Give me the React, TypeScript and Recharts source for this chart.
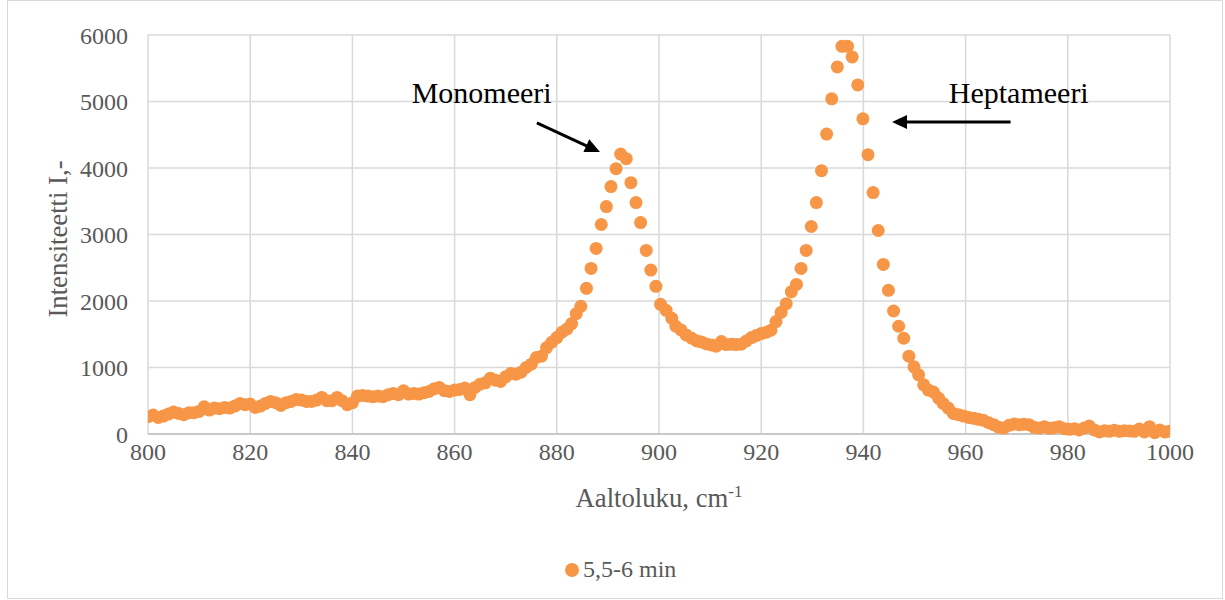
import React from 'react';
import {
  ScatterChart,
  Scatter,
  XAxis,
  YAxis,
  CartesianGrid,
  Legend,
  Label,
  ReferenceLine,
  ReferenceDot,
} from 'recharts';

// Raman spectrum, 800–1000 cm-1
const wavenumbers = [
  800, 801, 802, 803, 804, 805, 806, 807, 808, 809,
  810, 811, 812, 813, 814, 815, 816, 817, 818, 819,
  820, 821, 822, 823, 824, 825, 826, 827, 828, 829,
  830, 831, 832, 833, 834, 835, 836, 837, 838, 839,
  840, 841, 842, 843, 844, 845, 846, 847, 848, 849,
  850, 851, 852, 853, 854, 855, 856, 857, 858, 859,
  860, 861, 862, 863, 864, 865, 866, 867, 868, 869,
  870, 871, 872, 873, 874, 875, 876, 877, 878, 879,
  880, 881, 882, 882.9, 883.8, 884.7, 885.8, 886.7, 887.7, 888.7,
  889.7, 890.6, 891.6, 892.5, 893.6, 894.5, 895.5, 896.4, 897.5, 898.4,
  899.4, 900.3, 901.4, 902.5, 903.3, 904.3, 905.3, 906.4, 907.4, 908.3,
  909.3, 910.3, 911.2, 912.2, 913.2, 914.2, 915.1, 916.1, 917.1, 918.1,
  919.0, 920.0, 921.0, 921.9, 922.9, 923.9, 924.9, 925.9, 926.9, 927.8,
  928.8, 929.8, 930.8, 931.8, 932.8, 933.8, 934.9, 935.8, 936.9, 937.8,
  938.9, 939.9, 940.9, 941.9, 942.9, 943.9, 944.9, 945.9, 946.9, 947.9,
  948.9, 949.9, 950.8, 951.8, 952.7, 953.7, 954.7, 955.6, 956.6, 957.6,
  958.6, 959.6, 960.6, 961.6, 962.5, 963.5, 964.5, 965.5, 966.5, 967.5,
  968.5, 969.5, 970.5, 971.4, 972.4, 973.4, 974.4, 975.4, 976.4, 977.3,
  978.3, 979.3, 980.3, 981.3, 982.2, 983.2, 984.2, 985.2, 986.2, 987.2,
  988.1, 989.1, 990.1, 991.1, 992.1, 993.0, 994.0, 995.0, 996.0, 997.0,
  998.0, 999.0, 999.9,
];

const intensities = [
  260, 285, 250, 270, 300, 330, 310, 290, 320, 320,
  340, 410, 360, 390, 380, 400, 390, 420, 460, 440,
  450, 400, 420, 460, 490, 470, 430, 470, 490, 520,
  510, 490, 490, 510, 550, 500, 500, 550, 500, 440,
  470, 570, 580, 570, 560, 570, 560, 590, 610, 590,
  650, 600, 610, 600, 620, 640, 680, 700, 650, 640,
  660, 670, 690, 590, 700, 750, 770, 840, 810, 790,
  860, 910, 900, 930, 1000, 1050, 1150, 1170, 1300, 1380,
  1450, 1530, 1580, 1660, 1810, 1920, 2190, 2490, 2790, 3150,
  3420, 3720, 3990, 4210, 4140, 3780, 3480, 3180, 2760, 2465,
  2220, 1950, 1860, 1740, 1620, 1565, 1490, 1440, 1400, 1385,
  1355, 1340, 1320, 1390, 1345, 1350, 1345, 1350, 1400, 1450,
  1480, 1510, 1530, 1560, 1690, 1830, 1960, 2140, 2250, 2490,
  2760, 3120, 3480, 3960, 4510, 5040, 5520, 5830, 5830, 5670,
  5250, 4740, 4200, 3630, 3060, 2550, 2160, 1850, 1620, 1440,
  1170, 1010, 890, 740, 660, 630, 540, 460, 390, 310,
  290, 270, 250, 235, 220, 205, 170, 140, 100, 90,
  130, 150, 140, 145, 140, 100, 90, 110, 85, 95,
  110, 80, 70, 80, 60, 90, 120, 60, 30, 50,
  40, 55, 40, 50, 45, 40, 75, 30, 110, 20,
  60, 30, 40,
];

const seriesName = '5,5-6 min';
const xTicks = [800, 820, 840, 860, 880, 900, 920, 940, 960, 980, 1000];
const yTicks = [0, 1000, 2000, 3000, 4000, 5000, 6000];
const xTitle = 'Aaltoluku, cm';
const xTitleSup = '-1';
const yTitle = 'Intensiteetti I,-';

// Peak annotations (text anchor point and arrow start/end, in data units)
const peakLabels = [
  { text: 'Monomeeri', x: 865.3, y: 4977 },
  { text: 'Heptameeri', x: 970.4, y: 4977 },
];
const peakArrows = [
  { from: { x: 876.1, y: 4677 }, to: { x: 888.45, y: 4241 } },
  { from: { x: 968.8, y: 4692 }, to: { x: 945.6, y: 4692 } },
];

const data = wavenumbers.map((x, i) => ({ x, y: intensities[i] }));

const ORANGE = '#F79646';
const GREY_TEXT = '#595959';
const FONT = "'Liberation Serif', 'Times New Roman', serif";

const ArrowShape = (props: any) => {
  const { x1, y1, x2, y2 } = props;
  const dx = x2 - x1;
  const dy = y2 - y1;
  const len = Math.hypot(dx, dy) || 1;
  const ux = dx / len;
  const uy = dy / len;
  const headLen = 15;
  const headHalf = 7;
  const bx = x2 - ux * headLen;
  const by = y2 - uy * headLen;
  const px = -uy;
  const py = ux;
  return (
    <g>
      <line x1={x1} y1={y1} x2={bx + ux * 2} y2={by + uy * 2} stroke="#000" strokeWidth={3} />
      <polygon
        points={`${x2},${y2} ${bx + px * headHalf},${by + py * headHalf} ${bx - px * headHalf},${by - py * headHalf}`}
        fill="#000"
      />
    </g>
  );
};

const makeLabelShape = (text: string) => (props: any) => (
  <text
    x={props.cx}
    y={props.cy}
    textAnchor="middle"
    fill="#000"
    fontSize={30}
    fontFamily={FONT}
  >
    {text}
  </text>
);

const XTitle = (props: any) => {
  const vb = props.viewBox || { x: 0, y: 0, width: 0, height: 0 };
  return (
    <text
      x={vb.x + vb.width / 2}
      y={vb.y + 73}
      textAnchor="middle"
      fill={GREY_TEXT}
      fontSize={26.7}
      fontFamily={FONT}
    >
      {xTitle}
      <tspan fontSize={17} dy={-10}>
        {xTitleSup}
      </tspan>
    </text>
  );
};

const YTitle = (props: any) => {
  const vb = props.viewBox || { x: 0, y: 0, width: 0, height: 0 };
  const x = vb.x + 67;
  const y = vb.y + vb.height / 2 + 4.5;
  return (
    <text
      x={x}
      y={y}
      transform={`rotate(-90, ${x}, ${y})`}
      textAnchor="middle"
      fill={GREY_TEXT}
      fontSize={26.7}
      fontFamily={FONT}
    >
      {yTitle}
    </text>
  );
};

const LegendContent = () => (
  <svg width={140} height={40} style={{ display: 'block' }}>
    <circle cx={12} cy={20} r={7} fill={ORANGE} />
    <text x={23} y={27} fill={GREY_TEXT} fontSize={24} fontFamily={FONT}>
      {seriesName}
    </text>
  </svg>
);

const Dot = (props: any) => <circle cx={props.cx} cy={props.cy} r={6.5} fill={ORANGE} />;

export default function App() {
  const tickStyle = { fill: GREY_TEXT, fontSize: 24, fontFamily: FONT };
  return (
    <div style={{ position: 'absolute', left: 0, top: 0, width: 1225, height: 600, background: '#fff' }}>
      <div
        style={{
          position: 'absolute',
          left: 7,
          top: 0,
          width: 1216,
          height: 599,
          boxSizing: 'border-box',
          border: '1px solid #D9D9D9',
        }}
      />
      <div style={{ position: 'absolute', left: 0, top: 0 }}>
        <ScatterChart
          width={1225}
          height={600}
          margin={{ top: 35, right: 55, bottom: 10, left: 0 }}
        >
          <CartesianGrid stroke="#D9D9D9" strokeWidth={1.5} />
          <XAxis
            type="number"
            dataKey="x"
            domain={[800, 1000]}
            ticks={xTicks}
            allowDataOverflow
            height={116}
            tickLine={false}
            tickSize={0}
            tickMargin={9}
            axisLine={{ stroke: '#BFBFBF', strokeWidth: 1.5 }}
            tick={tickStyle}
            interval={0}
          >
            <Label content={<XTitle />} />
          </XAxis>
          <YAxis
            type="number"
            dataKey="y"
            domain={[0, 6000]}
            ticks={yTicks}
            width={148}
            tickLine={false}
            tickSize={0}
            tickMargin={20}
            axisLine={false}
            tick={tickStyle}
            interval={0}
          >
            <Label content={<YTitle />} />
          </YAxis>
          <Legend
            verticalAlign="bottom"
            height={40}
            wrapperStyle={{ left: 560, width: 140, height: 40, bottom: 10 }}
            content={<LegendContent />}
          />
          <Scatter
            name={seriesName}
            data={data}
            fill={ORANGE}
            shape={<Dot />}
            isAnimationActive={false}
          />
          {peakArrows.map((a, i) => (
            <ReferenceLine
              key={`arrow-${i}`}
              segment={[a.from, a.to]}
              ifOverflow="visible"
              shape={<ArrowShape />}
            />
          ))}
          {peakLabels.map((l) => (
            <ReferenceDot
              key={l.text}
              x={l.x}
              y={l.y}
              r={0}
              ifOverflow="visible"
              shape={makeLabelShape(l.text)}
            />
          ))}
        </ScatterChart>
      </div>
    </div>
  );
}
